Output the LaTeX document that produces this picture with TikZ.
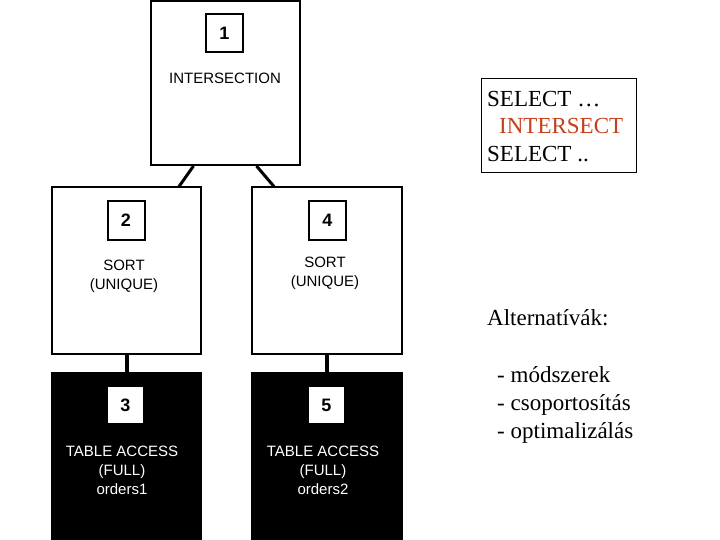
\documentclass[tikz,border=0pt]{standalone}
\usepackage{fontspec}
\setmainfont{Liberation Serif}
\newfontfamily\planfont{Liberation Sans}
\usepackage{tikz}
\usetikzlibrary{calc}
\definecolor{sqlred}{RGB}{196,64,28}

\begin{document}
\begin{tikzpicture}[x=1pt,y=-1pt,
    planbox/.style={draw,line width=2pt,inner sep=0pt},
    numbox/.style={draw,line width=2pt,inner sep=0pt,minimum width=37pt,minimum height=38pt,
        font=\planfont\bfseries\fontsize{18}{18}\selectfont},
    oplabel/.style={align=center,font=\planfont\fontsize{15}{19}\selectfont},
    sqltext/.style={anchor=base west,inner sep=0pt,font=\fontsize{23}{28}\selectfont}]
    \useasboundingbox (0,0) rectangle (720,540);

    % execution plan
    \node[planbox,minimum width=149pt,minimum height=164pt] (box1) at (225.5,83) {};
    \node[numbox] (num1) at (224.5,33) {1};
    \node[oplabel] (op1) at (225,78) {INTERSECTION};

    \node[planbox,minimum width=149pt,minimum height=166pt] (box2) at (126.5,270.5) {};
    \node[numbox] (num2) at (126,220.5) {2};
    \node[oplabel] (op2) at (124,276.5) {SORT\\(UNIQUE)};

    \node[planbox,minimum width=150pt,minimum height=166pt] (box4) at (327,270.5) {};
    \node[numbox] (num4) at (327.5,220.5) {4};
    \node[oplabel] (op4) at (325,273) {SORT\\(UNIQUE)};

    \node[planbox,fill=black,minimum width=149pt,minimum height=167pt] (box3) at (126.5,456.5) {};
    \node[numbox,draw=none,fill=white,minimum width=35pt,minimum height=36pt] (num3) at (125.5,405) {3};
    \node[oplabel,text=white] (op3) at (122,470) {TABLE ACCESS\\(FULL)\\orders1};

    \node[planbox,fill=black,minimum width=150pt,minimum height=167pt] (box5) at (327,456.5) {};
    \node[numbox,draw=none,fill=white,minimum width=35pt,minimum height=36pt] (num5) at (326.5,405) {5};
    \node[oplabel,text=white] (op5) at (323,470) {TABLE ACCESS\\(FULL)\\orders2};

    \draw[line width=3pt] ($(box1.south)+(-32,0)$) -- ($(box2.north east)+(-23,0)$);
    \draw[line width=3pt] ($(box1.south)+(31,0)$) -- ($(box4.north west)+(23,0)$);
    \draw[line width=4pt] (box2.south) -- (box3.north);
    \draw[line width=4pt] (box4.south) -- (box5.north);

    % query and notes
    \node[draw,line width=1pt,inner sep=0pt,minimum width=155pt,minimum height=94pt] (sqlbox) at (558.5,126) {};
    \node[sqltext] (sel1) at (487,107) {SELECT …};
    \node[sqltext,text=sqlred] (isect) at (499,134) {INTERSECT};
    \node[sqltext] (sel2) at (487,162) {SELECT ..};

    \node[sqltext] (alt) at (487,325) {Alternatívák:};
    \node[sqltext] (alt1) at (497,382) {- módszerek};
    \node[sqltext] (alt2) at (497,410) {- csoportosítás};
    \node[sqltext] (alt3) at (497,438) {- optimalizálás};
\end{tikzpicture}
\end{document}
